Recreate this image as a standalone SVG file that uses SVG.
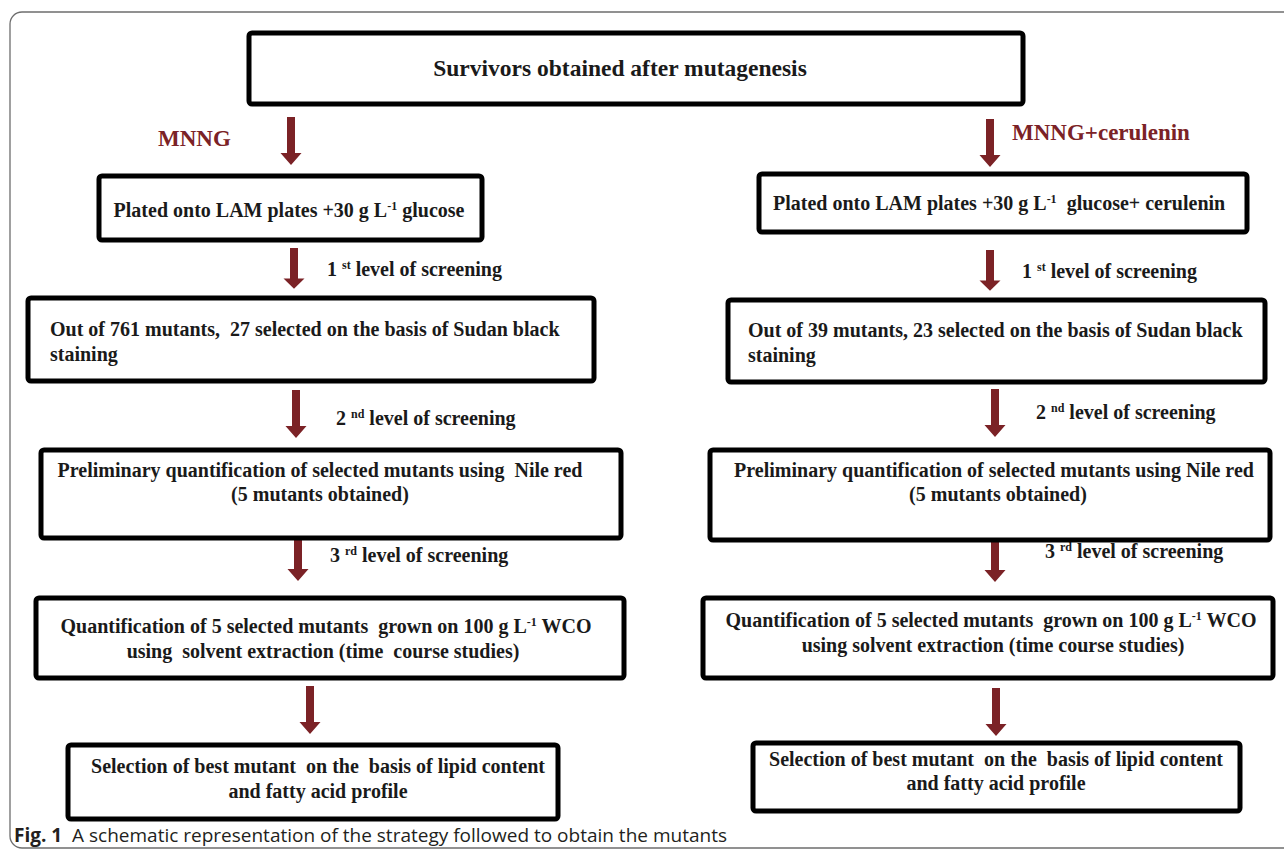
<svg xmlns="http://www.w3.org/2000/svg" width="1284" height="851" viewBox="0 0 1284 851">
<defs>
<style>
.box{fill:#fff;stroke:#000;stroke-width:5;}
.t{font-family:"Liberation Serif","Times New Roman",serif;font-weight:bold;font-size:20px;fill:#1a1a1a;white-space:pre;}
.tt{font-family:"Liberation Serif","Times New Roman",serif;font-weight:bold;font-size:23.5px;fill:#1a1a1a;}
.lab{font-family:"Liberation Serif","Times New Roman",serif;font-weight:bold;font-size:23px;fill:#7b2226;}
.sup{font-size:12px;}
.arr{fill:#7b2226;}
.cap{font-family:"Open Sans","Noto Sans",sans-serif;font-size:19px;fill:#231f20;white-space:pre;}
</style>
<path id="arrow" d="M-4,0 H4 V36 H10.5 L0,48 L-10.5,36 H-4 Z"/>
</defs>
<rect x="10" y="12" width="1300" height="836" rx="12" fill="#fff" stroke="#6d6d6d" stroke-width="1.3"/>

<g id="connectors" class="arr">
<use href="#arrow" x="291" y="117"/>
<use href="#arrow" x="990" y="119"/>
<use href="#arrow" x="294" y="248" transform="translate(294 248) scale(1 0.85) translate(-294 -248)"/>
<use href="#arrow" x="990" y="250" transform="translate(990 250) scale(1 0.85) translate(-990 -250)"/>
<use href="#arrow" x="296" y="390"/>
<use href="#arrow" x="995" y="389"/>
<use href="#arrow" x="298" y="533"/>
<use href="#arrow" x="995" y="534"/>
<use href="#arrow" x="310" y="686"/>
<use href="#arrow" x="996" y="688"/>
<text class="lab" x="158" y="146">MNNG</text>
<text class="lab" x="1012" y="140">MNNG+cerulenin</text>
<text class="t" x="327" y="276">1 <tspan class="sup" dy="-7">st</tspan><tspan dy="7"> level of screening</tspan></text>
<text class="t" x="1022" y="278">1 <tspan class="sup" dy="-7">st</tspan><tspan dy="7"> level of screening</tspan></text>
<text class="t" x="336" y="425">2 <tspan class="sup" dy="-7">nd</tspan><tspan dy="7"> level of screening</tspan></text>
<text class="t" x="1036" y="419">2 <tspan class="sup" dy="-7">nd</tspan><tspan dy="7"> level of screening</tspan></text>
<text class="t" x="330" y="562">3 <tspan class="sup" dy="-7">rd</tspan><tspan dy="7"> level of screening</tspan></text>
<text class="t" x="1045" y="558">3 <tspan class="sup" dy="-7">rd</tspan><tspan dy="7"> level of screening</tspan></text>
</g>

<g id="n-top">
<rect class="box" x="249" y="33" width="774" height="71" rx="3"/>
<text class="tt" x="620" y="76" text-anchor="middle">Survivors obtained after mutagenesis</text>
</g>

<g id="n-l1">
<rect class="box" x="99" y="176" width="383" height="64" rx="3"/>
<text class="t" x="289" y="217" text-anchor="middle">Plated onto LAM plates +30 g L<tspan class="sup" dy="-7">-1</tspan><tspan dy="7"> glucose</tspan></text>
</g>
<g id="n-r1">
<rect class="box" x="759" y="174" width="488" height="58" rx="3"/>
<text class="t" x="773" y="210">Plated onto LAM plates +30 g L<tspan class="sup" dy="-7">-1</tspan><tspan dy="7">  glucose+ cerulenin</tspan></text>
</g>

<g id="n-l2">
<rect class="box" x="28" y="298" width="566" height="83" rx="3"/>
<text class="t" x="50" y="336">Out of 761 mutants,  27 selected on the basis of Sudan black</text>
<text class="t" x="50" y="361">staining</text>
</g>
<g id="n-r2">
<rect class="box" x="728" y="300" width="537" height="82" rx="3"/>
<text class="t" x="748" y="337">Out of 39 mutants, 23 selected on the basis of Sudan black</text>
<text class="t" x="748" y="362">staining</text>
</g>

<g id="n-l3">
<rect class="box" x="41" y="450" width="580" height="88" rx="3"/>
<text class="t" x="320" y="477" text-anchor="middle">Preliminary quantification of selected mutants using  Nile red</text>
<text class="t" x="320" y="501" text-anchor="middle">(5 mutants obtained)</text>
</g>
<g id="n-r3">
<rect class="box" x="710" y="450" width="560" height="90" rx="3"/>
<text class="t" x="994" y="477" text-anchor="middle">Preliminary quantification of selected mutants using Nile red</text>
<text class="t" x="998" y="501" text-anchor="middle">(5 mutants obtained)</text>
</g>

<g id="n-l4">
<rect class="box" x="36" y="598" width="588" height="80" rx="3"/>
<text class="t" x="326" y="633" text-anchor="middle">Quantification of 5 selected mutants  grown on 100 g L<tspan class="sup" dy="-7">-1</tspan><tspan dy="7"> WCO</tspan></text>
<text class="t" x="323" y="658" text-anchor="middle">using  solvent extraction (time  course studies)</text>
</g>
<g id="n-r4">
<rect class="box" x="703" y="598" width="570" height="80" rx="3"/>
<text class="t" x="991" y="627" text-anchor="middle">Quantification of 5 selected mutants  grown on 100 g L<tspan class="sup" dy="-7">-1</tspan><tspan dy="7"> WCO</tspan></text>
<text class="t" x="993" y="652" text-anchor="middle">using solvent extraction (time course studies)</text>
</g>

<g id="n-l5">
<rect class="box" x="68" y="745" width="490" height="74" rx="3"/>
<text class="t" x="318" y="773" text-anchor="middle">Selection of best mutant  on the  basis of lipid content</text>
<text class="t" x="318" y="798" text-anchor="middle">and fatty acid profile</text>
</g>
<g id="n-r5">
<rect class="box" x="753" y="743" width="487" height="68" rx="3"/>
<text class="t" x="996" y="766" text-anchor="middle">Selection of best mutant  on the  basis of lipid content</text>
<text class="t" x="996" y="790" text-anchor="middle">and fatty acid profile</text>
</g>

<g id="caption">
<text class="cap" x="14" y="842"><tspan font-weight="bold">Fig. 1</tspan>  A schematic representation of the strategy followed to obtain the mutants</text>
</g>
</svg>
